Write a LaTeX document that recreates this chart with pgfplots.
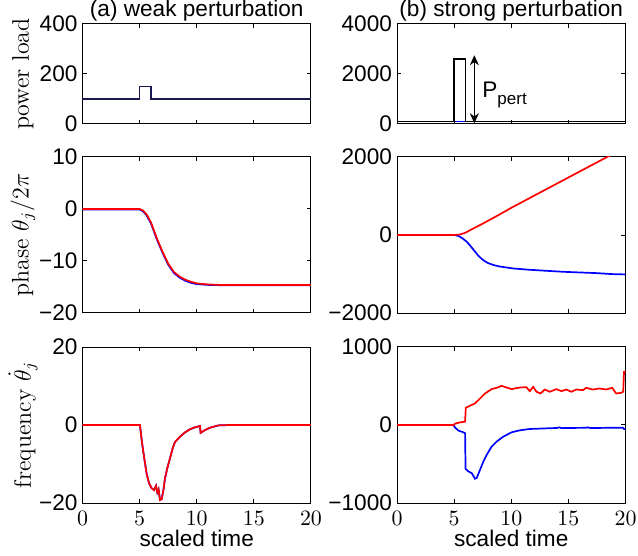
\documentclass[border=0pt]{standalone}
\usepackage{fontspec}
\usepackage{pgfplots}
\pgfplotsset{compat=1.18}
\usetikzlibrary{arrows.meta}
\newfontfamily\hv{Liberation Sans}
\newcommand\tickfont{\hv\fontsize{11.3}{13}\selectfont}
\newcommand\labfont{\fontsize{12}{14}\selectfont}
\definecolor{navy}{RGB}{25,25,80}
\pgfplotsset{
  mstyle/.style={
    scale only axis, anchor=north west,
    width=114.25pt,
    axis line style={line width=0.5pt},
    tick align=inside, major tick length=2.2pt,
    tick style={line width=0.5pt, black},
    xtick pos=both, ytick pos=both,
    xticklabel pos=left, yticklabel pos=left,
    xmin=0, xmax=20, xtick={0,5,10,15,20},
    tick label style={font=\tickfont},
    xticklabel style={yshift=-0.6pt},
    yticklabel style={xshift=1pt},
    ylabel style={font=\labfont, at={(axis description cs:-0.2604,0.5)}, anchor=center},
    title style={font=\tickfont, anchor=south, inner sep=0pt, yshift=-4.9pt},
    xlabel style={font=\tickfont, yshift=4.7pt},
    every axis plot/.append style={line width=0.85pt},
  },
}
\begin{document}
\begin{tikzpicture}
\useasboundingbox (0,0) rectangle (319pt,-278pt);
% ---- top left
\begin{axis}[mstyle, at={(41.25pt,-12pt)}, height=50pt,
  ymin=0, ymax=400, ytick={0,200,400}, yticklabels={0,200,400}, xticklabels={},
  ylabel={power load}, title={(a) weak perturbation}]
\addplot[navy] coordinates {(0,100)(5,100)(5,150)(6,150)(6,100)(20,100)};
\end{axis}
% ---- top right
\begin{axis}[mstyle, at={(198.5pt,-12pt)}, height=50pt,
  ymin=0, ymax=4000, ytick={0,2000,4000}, yticklabels={0,2000,4000}, xticklabels={},
  title={(b) strong perturbation}]
\addplot[blue] coordinates {(0,100)(20,100)};
\addplot[black] coordinates {(0,100)(5,100)(5,2600)(6,2600)(6,100)(20,100)};
\draw[{Stealth[length=5pt,width=4.5pt]}-{Stealth[length=5pt,width=4.5pt]}, line width=0.6pt]
  (axis cs:6.77,2750) -- (axis cs:6.77,30);
\node[anchor=base west, inner sep=0pt, font=\tickfont] at (axis cs:7.44,1071)
  {P\raisebox{-0.6ex}{\fontsize{8.5}{9}\selectfont pert}};
\end{axis}
% ---- middle left
\begin{axis}[mstyle, at={(41.25pt,-78.5pt)}, height=78pt,
  ymin=-20, ymax=10, ytick={-20,-10,0,10}, yticklabels={−20,−10,0,10}, xticklabels={},
  ylabel={phase $\theta_j/2\pi$}]
\addplot[blue] coordinates {(0,-0.1)(5,-0.1)(5.3,-0.45)(5.6,-1.2)(6.0,-2.8)(6.5,-5.8)(7.0,-8.4)(7.5,-10.7)(8.0,-12.3)(8.5,-13.2)(9.0,-13.8)(9.5,-14.2)(10,-14.45)(11,-14.6)(12,-14.65)(20,-14.65)};
\addplot[red] coordinates {(0,0)(5,0)(5.3,-0.3)(5.6,-1.0)(6.0,-2.6)(6.5,-5.6)(7.0,-8.2)(7.5,-10.5)(8.0,-12.1)(8.5,-13.0)(9.0,-13.6)(9.5,-14.0)(10,-14.3)(11,-14.5)(12,-14.6)(20,-14.6)};
\end{axis}
% ---- middle right
\begin{axis}[mstyle, at={(198.5pt,-78.5pt)}, height=78pt,
  ymin=-2000, ymax=2000, ytick={-2000,0,2000}, yticklabels={−2000,0,2000}, xticklabels={}]
\addplot[blue] coordinates {(0,0)(5,0)(5.38,-25)(5.7,-80)(6.1,-170)(6.45,-290)(6.83,-425)(7.1,-525)(7.41,-612)(7.7,-675)(7.99,-722)(8.5,-775)(9.0,-808)(10.17,-858)(11.62,-892)(13.08,-918)(14.53,-943)(15.98,-960)(17.44,-977)(18.89,-1003)(20,-1011)};
\addplot[red] coordinates {(0,0)(5,0)(5.5,12)(6,60)(6.5,140)(7,215)(7.5,290)(8,370)(8.5,450)(9,530)(10,697)(11,852)(12,1008)(13,1163)(14,1319)(15,1474)(16,1630)(17,1785)(18,1940)(19,2095)};
\end{axis}
% ---- bottom left
\begin{axis}[mstyle, at={(41.25pt,-173.5pt)}, height=78pt,
  ymin=-20, ymax=20, ytick={-20,0,20}, yticklabels={−20,0,20},
  ylabel={frequency $\dot\theta_j$}, xlabel={scaled time}]
\addplot[blue] coordinates {(0,0)(5.03,0)(5.18,-3.85)(5.32,-6.8)(5.47,-9.8)(5.61,-12.4)(5.82,-14.9)(6.05,-16.2)(6.26,-16.7)(6.43,-15.6)(6.55,-17.3)(6.66,-16.5)(6.78,-19.2)(6.93,-19.0)(7.08,-16.7)(7.22,-13.7)(7.42,-11.1)(7.66,-8.5)(7.89,-6.0)(8.09,-4.4)(8.53,-3.0)(8.97,-1.9)(9.40,-1.1)(9.84,-0.6)(10.28,-0.26)(10.34,-2.0)(10.72,-1.3)(11.16,-0.7)(11.89,-0.1)(12.9,0)(20,0)};
\addplot[red] coordinates {(0,0)(5.03,0)(5.18,-3.85)(5.32,-6.8)(5.47,-9.8)(5.61,-12.4)(5.82,-14.9)(6.05,-16.2)(6.26,-16.7)(6.43,-15.6)(6.55,-17.3)(6.66,-16.5)(6.78,-19.2)(6.93,-19.0)(7.08,-16.7)(7.22,-13.7)(7.42,-11.1)(7.66,-8.5)(7.89,-6.0)(8.09,-4.4)(8.53,-3.0)(8.97,-1.9)(9.40,-1.1)(9.84,-0.6)(10.28,-0.26)(10.34,-2.0)(10.72,-1.3)(11.16,-0.7)(11.89,-0.1)(12.9,0)(20,0)};
\end{axis}
% ---- bottom right
\begin{axis}[mstyle, at={(198.5pt,-173.5pt)}, height=78pt,
  ymin=-1000, ymax=1000, ytick={-1000,0,1000}, yticklabels={−1000,0,1000},
  xlabel={scaled time}]
\addplot[blue] coordinates {(0,0)(4.94,0)(5.09,-34)(5.38,-72)(5.81,-94)(5.96,-106)(6.0,-562)(6.25,-596)(6.54,-617)(6.83,-689)(6.97,-681)(7.27,-574)(7.56,-468)(7.85,-383)(8.28,-277)(8.72,-213)(9.30,-149)(10.03,-94)(10.75,-68)(11.62,-51)(13.08,-43)(14.0,-38)(14.2,-30)(14.4,-40)(15.11,-38)(16.5,-36)(16.7,-30)(16.9,-38)(17.44,-38)(18.5,-36)(19.76,-34)(19.88,-51)(20,-55)};
\addplot[red] coordinates {(0,0)(4.94,0)(5.09,17)(5.52,34)(5.96,43)(6.02,221)(6.39,247)(6.83,277)(7.12,319)(7.70,404)(8.28,460)(8.72,477)(9.15,502)(9.59,481)(10.03,460)(10.75,481)(11.33,485)(11.62,434)(11.92,489)(12.21,426)(12.56,404)(12.93,455)(13.37,426)(13.95,460)(14.39,434)(14.82,455)(15.26,426)(15.70,455)(16.28,447)(16.56,477)(17.15,455)(17.73,468)(18.31,455)(18.83,477)(19.18,404)(19.62,413)(19.80,426)(19.87,681)(20,681)};
\end{axis}
\end{tikzpicture}
\end{document}
